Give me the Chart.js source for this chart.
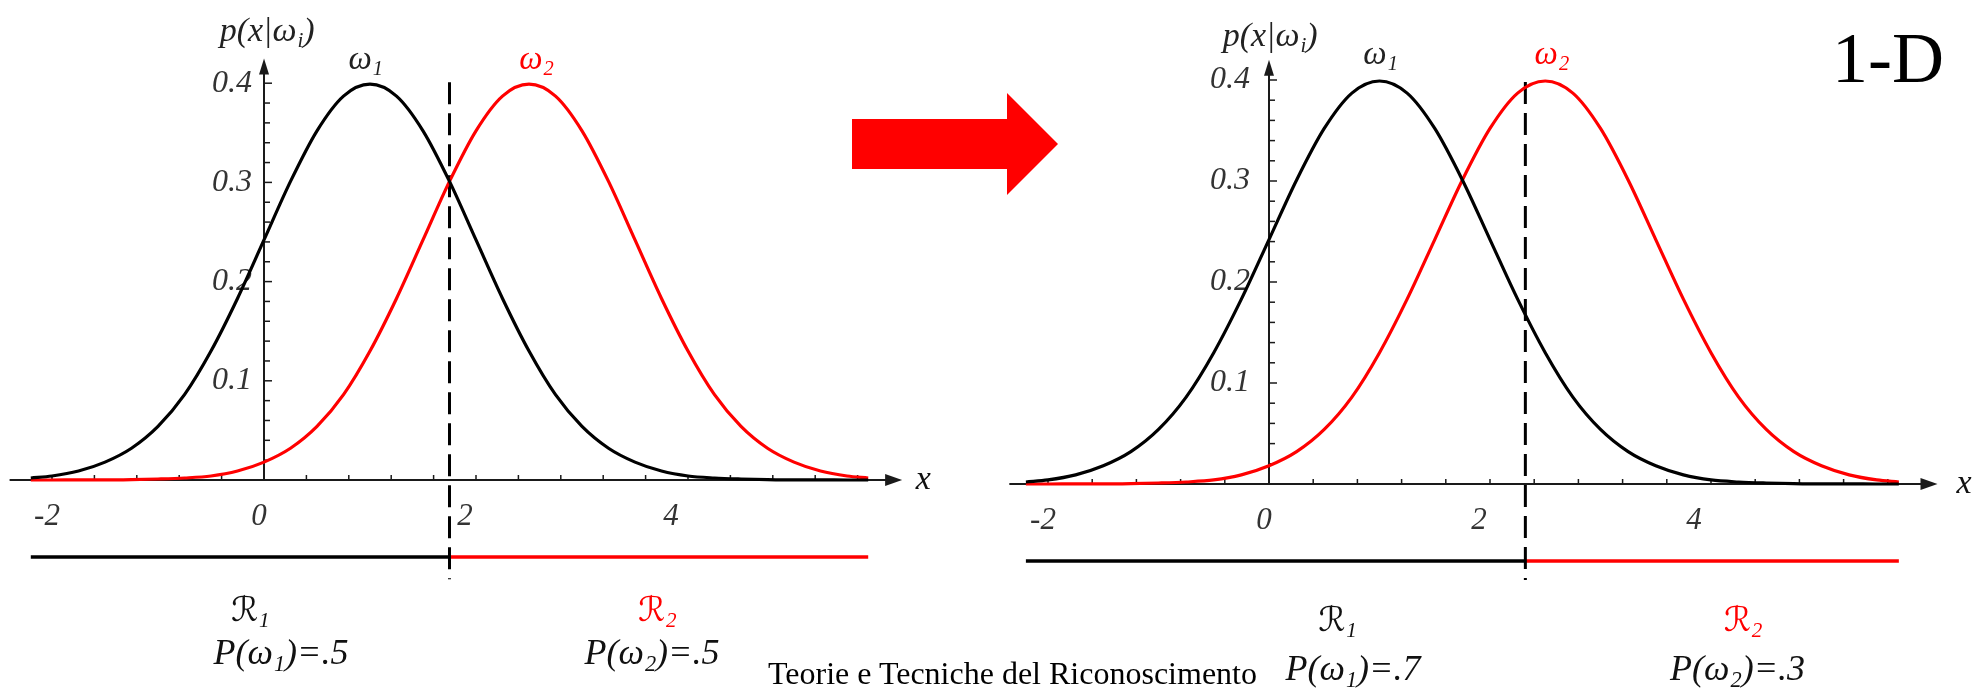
<!DOCTYPE html>
<html><head><meta charset="utf-8">
<script src="https://cdn.jsdelivr.net/npm/chart.js@4/dist/chart.umd.min.js"></script>
<style>
html,body{margin:0;padding:0;background:#fff;width:1986px;height:689px;overflow:hidden;position:relative}
canvas{position:absolute;left:0;top:0}
#arrow{position:absolute;left:852px;top:93px;width:206px;height:102px;background:#ff0000;
 clip-path:polygon(0 26px,155px 26px,155px 0,206px 51px,155px 102px,155px 76px,0 76px)}
.txt{position:absolute;font-family:'Liberation Serif','Times New Roman',serif;color:#000;white-space:nowrap;line-height:1}
#oneD{left:1832px;top:22px;font-size:72px}
#footer{left:768px;top:657px;font-size:32px}
</style></head><body>
<canvas id="c1" width="1986" height="689"></canvas>
<canvas id="c2" width="1986" height="689"></canvas>
<div id="arrow"></div>
<div class="txt" id="oneD">1-D</div>
<div class="txt" id="footer">Teorie e Tecniche del Riconoscimento</div>
<script>
// ---------------- DATA ----------------
const xValues = [-2.2,-2.0,-1.75,-1.5,-1.25,-1.0,-0.75,-0.5,-0.25,0,0.25,0.5,0.75,1.0,1.25,1.5,1.75,2.0,2.25,2.5,2.75,3.0,3.25,3.5,3.75,4.0,4.25,4.5,4.75,5.0,5.25,5.5,5.7];
const omega1Density = [0.002,0.004,0.009,0.018,0.032,0.054,0.086,0.130,0.183,0.242,0.301,0.352,0.387,0.399,0.387,0.352,0.301,0.242,0.183,0.130,0.086,0.054,0.032,0.018,0.009,0.004,0.002,0.001,0.0004,0.0001,0.0001,0,0];
const omega2Density = [0,0,0.0001,0.0001,0.0004,0.001,0.002,0.004,0.009,0.018,0.032,0.054,0.086,0.130,0.183,0.242,0.301,0.352,0.387,0.399,0.387,0.352,0.301,0.242,0.183,0.130,0.086,0.054,0.032,0.018,0.009,0.004,0.002];
const xTickLabels = [-2,0,2,4];
const yTickLabels = [0.1,0.2,0.3,0.4];
const priorsLeft = ['.5','.5'];
const priorsRight = ['.7','.3'];
const boundaryLeft = 1.75;
const boundaryRight = 2.32;

Chart.defaults.animation = false;
const W = 1986, H = 689;
const FONT = "'Liberation Serif','DejaVu Serif','DejaVu Sans',serif";

function pts(xs, ys){ return xs.map((x,i)=>({x:x, y:ys[i]})); }

function drawRich(ctx, segs, cx, cy, size, color, align){
  const subSize = size*0.62;
  let total = 0;
  segs.forEach(s=>{ const sz = s.sub?subSize:(s.size||size); ctx.font = (s.upright?'':'italic ') + sz + 'px ' + FONT; s.w = ctx.measureText(s.t).width; total += s.w + (s.sub?1:0); });
  let x = align==='left' ? cx : (align==='right' ? cx-total : cx-total/2);
  ctx.fillStyle = color; ctx.textBaseline = 'middle'; ctx.textAlign='left';
  segs.forEach(s=>{
    const sz = s.sub?subSize:(s.size||size);
    ctx.font = (s.upright?'':'italic ') + sz + 'px ' + FONT;
    ctx.fillText(s.t, x + (s.sub?1:0), cy + (s.sub? size*0.28 : 0));
    x += s.w + (s.sub?1:0);
  });
}

const mathAxes = {
  id:'mathAxes',
  beforeDatasetsDraw(chart){
    const o = chart.options.plugins.mathAxes, ctx = chart.ctx;
    const xs = chart.scales.x, ys = chart.scales.y;
    const x0 = xs.getPixelForValue(0), y0 = ys.getPixelForValue(0);
    const xa = xs.getPixelForValue(o.axisStart), xt = xs.getPixelForValue(o.axisEnd);
    const yt = ys.getPixelForValue(o.yAxisEnd);
    ctx.save();
    ctx.strokeStyle = '#1a1a1a'; ctx.fillStyle = '#1a1a1a'; ctx.lineWidth = 2;
    ctx.beginPath(); ctx.moveTo(xa, y0); ctx.lineTo(xt-10, y0); ctx.stroke();
    ctx.beginPath(); ctx.moveTo(xt, y0); ctx.lineTo(xt-17, y0-6); ctx.lineTo(xt-17, y0+6); ctx.closePath(); ctx.fill();
    ctx.beginPath(); ctx.moveTo(x0, y0); ctx.lineTo(x0, yt+10); ctx.stroke();
    ctx.beginPath(); ctx.moveTo(x0, yt); ctx.lineTo(x0-5, yt+16); ctx.lineTo(x0+5, yt+16); ctx.closePath(); ctx.fill();
    ctx.lineWidth = 1.5;
    for(let k=-6;k<=14;k++){
      const v = k*0.4; if(v < o.axisStart || v > o.axisEnd-0.3) continue;
      const px = xs.getPixelForValue(v);
      ctx.beginPath(); ctx.moveTo(px, y0); ctx.lineTo(px, y0-5); ctx.stroke();
    }
    for(let k=1;k<=20;k++){
      const py = ys.getPixelForValue(k*0.02);
      ctx.beginPath(); ctx.moveTo(x0, py); ctx.lineTo(x0 + (k%5===0?8:6), py); ctx.stroke();
    }
    ctx.restore();
    xTickLabels.forEach(v=>{
      const shift = v > 0 ? -5 - 3*v : -5;
      drawRich(ctx, [{t: v<0 ? '-'+Math.abs(v) : String(v)}], xs.getPixelForValue(v)+shift, y0+37, 31, '#333', 'center');
    });
    yTickLabels.forEach(v=>{
      drawRich(ctx, [{t: v.toFixed(1)}], x0 - o.yLabelGap, ys.getPixelForValue(v), 32, '#333', 'right');
    });
  },
  afterDatasetsDraw(chart){
    const o = chart.options.plugins.mathAxes, ctx = chart.ctx;
    const xs = chart.scales.x, ys = chart.scales.y;
    o.labels.forEach(l=>{
      drawRich(ctx, l.segs, xs.getPixelForValue(l.x), ys.getPixelForValue(l.y), l.size, l.color, 'center');
    });
  }
};

function makePanel(id, g, boundary, priors, lab){
  const pad = {
    left: g.ox + g.xmin*g.sx,
    right: W - (g.ox + g.xmax*g.sx),
    top: g.oy - g.ymax*g.sy,
    bottom: H - (g.oy - g.ymin*g.sy)
  };
  const xFirst = xValues[0], xLast = xValues[xValues.length-1];
  return new Chart(document.getElementById(id), {
    type:'line',
    data:{ datasets:[
      {data: pts(xValues, omega1Density), borderColor:'#000', borderWidth:3.2, pointRadius:0, cubicInterpolationMode:'monotone', fill:false},
      {data: pts(xValues, omega2Density), borderColor:'#ff0000', borderWidth:3.2, pointRadius:0, cubicInterpolationMode:'monotone', fill:false},
      {data: [{x:boundary, y:g.dashTop},{x:boundary, y:g.dashBottom}], borderColor:'#000', borderWidth:3, borderDash:[22,9], pointRadius:0},
      {data: [{x:xFirst, y:g.barY},{x:boundary, y:g.barY}], borderColor:'#000', borderWidth:3.5, pointRadius:0},
      {data: [{x:boundary, y:g.barY},{x:xLast, y:g.barY}], borderColor:'#ff0000', borderWidth:3.5, pointRadius:0}
    ]},
    options:{
      responsive:false, animation:false,
      layout:{padding:pad},
      scales:{
        x:{type:'linear', min:g.xmin, max:g.xmax, display:false},
        y:{type:'linear', min:g.ymin, max:g.ymax, display:false}
      },
      plugins:{
        legend:{display:false}, tooltip:{enabled:false},
        mathAxes:{
          axisStart:g.axisStart, axisEnd:g.axisEnd, yAxisEnd:g.yAxisEnd, yLabelGap:g.yLabelGap,
          labels:[
            {segs:[{t:'p(x|ω'},{t:'i',sub:true},{t:')'}], x:lab.px, y:lab.py, size:34, color:'#222'},
            {segs:[{t:'ω'},{t:'1',sub:true}], x:lab.w1, y:lab.wy, size:33, color:'#222'},
            {segs:[{t:'ω'},{t:'2',sub:true}], x:lab.w2, y:lab.wy, size:33, color:'#ff0000'},
            {segs:[{t:'x'}], x:lab.xl, y:0, size:34, color:'#111'},
            {segs:[{t:'\u211B',upright:true,size:34},{t:'1',sub:true}], x:lab.r1, y:lab.ry, size:34, color:'#111'},
            {segs:[{t:'\u211B',upright:true,size:34},{t:'2',sub:true}], x:lab.r2, y:lab.ry, size:34, color:'#ff0000'},
            {segs:[{t:'P(ω'},{t:'1',sub:true},{t:')=' + priors[0]}], x:lab.p1, y:lab.pyy, size:36, color:'#111'},
            {segs:[{t:'P(ω'},{t:'2',sub:true},{t:')=' + priors[1]}], x:lab.p2, y:lab.pyy, size:36, color:'#111'}
          ]
        }
      }
    },
    plugins:[mathAxes]
  });
}

makePanel('c1',
  {ox:264, oy:480, sx:106, sy:992, xmin:-2.45, xmax:6.3, ymin:-0.2, ymax:0.46,
   axisStart:-2.4, axisEnd:6.02, yAxisEnd:0.425, yLabelGap:12,
   dashTop:0.401, dashBottom:-0.1, barY:-0.0776},
  boundaryLeft, priorsLeft,
  {px:0.03, py:0.452, w1:0.96, w2:2.57, wy:0.423, xl:6.22, r1:-0.13, r2:3.71, ry:-0.133, p1:0.16, p2:3.66, pyy:-0.1764});

makePanel('c2',
  {ox:1269, oy:484, sx:110.5, sy:1010, xmin:-2.45, xmax:6.3, ymin:-0.19, ymax:0.46,
   axisStart:-2.35, axisEnd:6.05, yAxisEnd:0.42, yLabelGap:19,
   dashTop:0.398, dashBottom:-0.095, barY:-0.0762},
  boundaryRight, priorsRight,
  {px:0.01, py:0.443, w1:1.01, w2:2.56, wy:0.424, xl:6.29, r1:0.62, r2:4.29, ry:-0.1366, p1:0.76, p2:4.24, pyy:-0.185});
</script>
</body></html>
